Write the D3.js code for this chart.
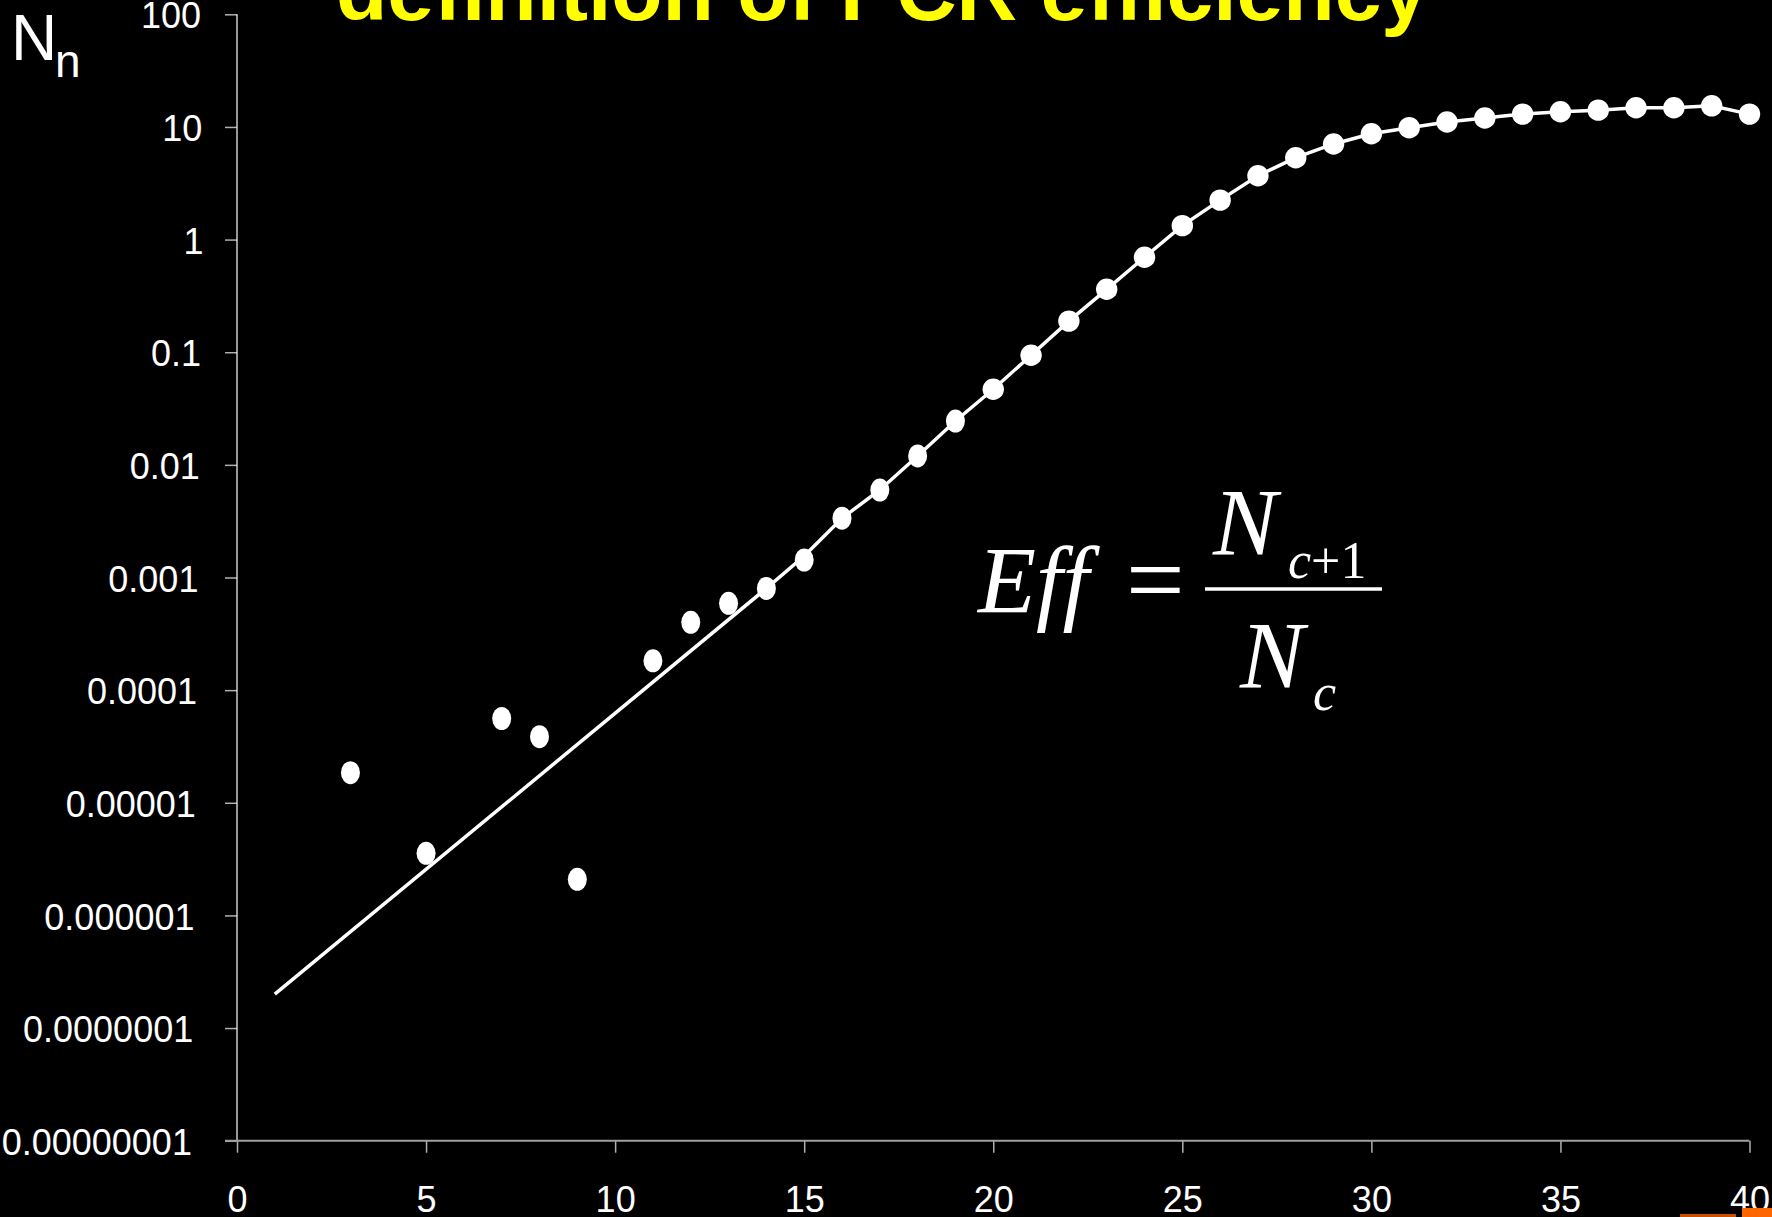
<!DOCTYPE html>
<html>
<head>
<meta charset="utf-8">
<script src="https://cdn.jsdelivr.net/npm/d3@7"></script>
<style>
  html, body { margin: 0; padding: 0; background: #000; overflow: hidden; }
  svg { display: block; }
</style>
</head>
<body>
<script>
// ---- data ----
const titleText = "definition of PCR efficiency";
const pointCycles = [3, 5, 7, 8, 9, 11, 12, 13, 14, 15, 16, 17, 18, 19, 20, 21, 22, 23, 24, 25, 26, 27, 28, 29, 30, 31, 32, 33, 34, 35, 36, 37, 38, 39, 40];
const pointValues = [1.85e-5, 3.56e-6, 5.6e-5, 3.86e-5, 2.09e-6, 1.82e-4, 4.0e-4, 5.9e-4, 8.0e-4, 1.43e-3, 3.36e-3, 5.98e-3, 0.0120, 0.0245, 0.0469, 0.094, 0.189, 0.362, 0.697, 1.33, 2.24, 3.69, 5.33, 7.06, 8.71, 9.85, 11.07, 12.0, 13.0, 13.65, 14.1, 14.8, 14.8, 15.4, 13.0];
const lineCycles = [1, 14, 15, 16, 17, 18, 19, 20, 21, 22, 23, 24, 25, 26, 27, 28, 29, 30, 31, 32, 33, 34, 35, 36, 37, 38, 39, 40];
const lineValues = [2.0e-7, 8.0e-4, 1.55e-3, 3.36e-3, 5.98e-3, 0.0120, 0.0245, 0.0469, 0.094, 0.189, 0.362, 0.697, 1.33, 2.24, 3.69, 5.33, 7.06, 8.71, 9.85, 11.07, 12.0, 13.0, 13.65, 14.1, 14.8, 14.8, 15.4, 13.0];
const yTickValues = [1e-8, 1e-7, 1e-6, 1e-5, 1e-4, 1e-3, 1e-2, 1e-1, 1, 10, 100];
const yTickLabels = ["0.00000001", "0.0000001", "0.000001", "0.00001", "0.0001", "0.001", "0.01", "0.1", "1", "10", "100"];
const xTickValues = [0, 5, 10, 15, 20, 25, 30, 35, 40];
const xTickLabels = ["0", "5", "10", "15", "20", "25", "30", "35", "40"];

// ---- layout ----
const W = 1772, H = 1217;
const sans = "'Liberation Sans', Arial, Helvetica, sans-serif";
const serif = "'Liberation Serif', 'Times New Roman', Times, serif";

const svg = d3.select("body").append("svg").attr("width", W).attr("height", H);
svg.append("rect").attr("width", W).attr("height", H).attr("fill", "#000");

const x = d3.scaleLinear().domain([0, 40]).range([237, 1749.5]);
const y = d3.scaleLog().domain([1e-8, 100]).range([1140.7, 14.3]);

// title (cut off at top, as in the slide)
svg.append("text")
  .attr("x", 336).attr("y", 20)
  .attr("font-family", sans).attr("font-weight", "bold").attr("font-size", 84)
  .attr("fill", "#ffff00")
  .text(titleText);

// y axis
const yAxis = d3.axisLeft(y)
  .tickValues(yTickValues)
  .tickFormat((d, i) => yTickLabels[i])
  .tickSize(12).tickPadding(24);
const gy = svg.append("g").attr("transform", `translate(${x(0)},0)`).call(yAxis);
gy.select(".domain").remove();
gy.selectAll(".tick line").attr("stroke", "#b0b0b0").attr("stroke-width", 1.5);
gy.selectAll(".tick text")
  .attr("font-family", sans).attr("font-size", 36).attr("fill", "#fff")
  .attr("dy", "0.38em")
  .attr("dx", (d, i) => -(yTickLabels[i].length - 3) * 1.3);
svg.append("line")
  .attr("x1", x(0)).attr("x2", x(0))
  .attr("y1", y(100)).attr("y2", y(1e-8))
  .attr("stroke", "#fff").attr("stroke-width", 1.2);

// x axis
const xAxis = d3.axisBottom(x)
  .tickValues(xTickValues)
  .tickFormat((d, i) => xTickLabels[i])
  .tickSize(12).tickPadding(33.5);
const gx = svg.append("g").attr("transform", `translate(0,${y(1e-8)})`).call(xAxis);
gx.select(".domain").remove();
gx.selectAll(".tick line").attr("stroke", "#b0b0b0").attr("stroke-width", 1.5);
gx.selectAll(".tick text")
  .attr("font-family", sans).attr("font-size", 36).attr("fill", "#fff");
svg.append("line")
  .attr("x1", x(0) - 12).attr("x2", x(40))
  .attr("y1", y(1e-8)).attr("y2", y(1e-8))
  .attr("stroke", "#a0a0a0").attr("stroke-width", 2);

// model line
const lineData = lineCycles.map((c, i) => [c, lineValues[i]]);
svg.append("path")
  .datum(lineData)
  .attr("fill", "none").attr("stroke", "#fff").attr("stroke-width", 3.5)
  .attr("d", d3.line().x(d => x(d[0])).y(d => y(d[1])));

// data points
const pts = pointCycles.map((c, i) => ({ c, v: pointValues[i] }));
svg.append("g").selectAll("ellipse").data(pts).join("ellipse")
  .attr("cx", d => x(d.c)).attr("cy", d => y(d.v))
  .attr("rx", d => d.c < 20 ? 9.5 : 10.7)
  .attr("ry", d => d.c < 20 ? 11.5 : 10.7)
  .attr("fill", "#fff");

// y-axis label N_n
const lab = svg.append("text").attr("font-family", sans).attr("fill", "#fff");
lab.append("tspan").attr("x", 11).attr("y", 60).attr("font-size", 64).text("N");
lab.append("tspan").attr("x", 55).attr("y", 77).attr("font-size", 46).text("n");

// formula  Eff = N_{c+1} / N_c
const f = svg.append("g").attr("fill", "#fff").attr("font-family", serif);
f.append("text").attr("x", 978).attr("y", 613).attr("font-size", 95)
  .attr("font-style", "italic").text("Eff");
f.append("text").attr("x", 1126).attr("y", 615).attr("font-size", 104).text("=");
f.append("line").attr("x1", 1205).attr("x2", 1382).attr("y1", 589).attr("y2", 589)
  .attr("stroke", "#fff").attr("stroke-width", 3.5);
f.append("text").attr("x", 1213).attr("y", 555).attr("font-size", 96)
  .attr("font-style", "italic").text("N");
const sub1 = f.append("text").attr("x", 1288).attr("y", 578).attr("font-size", 52);
sub1.append("tspan").attr("font-style", "italic").text("c");
sub1.append("tspan").text("+1");
f.append("text").attr("x", 1240).attr("y", 688).attr("font-size", 96)
  .attr("font-style", "italic").text("N");
f.append("text").attr("x", 1313).attr("y", 710).attr("font-size", 52)
  .attr("font-style", "italic").text("c");

// slide decoration fragment (bottom-right corner)
svg.append("rect").attr("x", 1742).attr("y", 1208).attr("width", 30).attr("height", 9).attr("fill", "#ff6600");
svg.append("rect").attr("x", 1680).attr("y", 1214).attr("width", 56).attr("height", 3).attr("fill", "#c84f00");
</script>
</body>
</html>
